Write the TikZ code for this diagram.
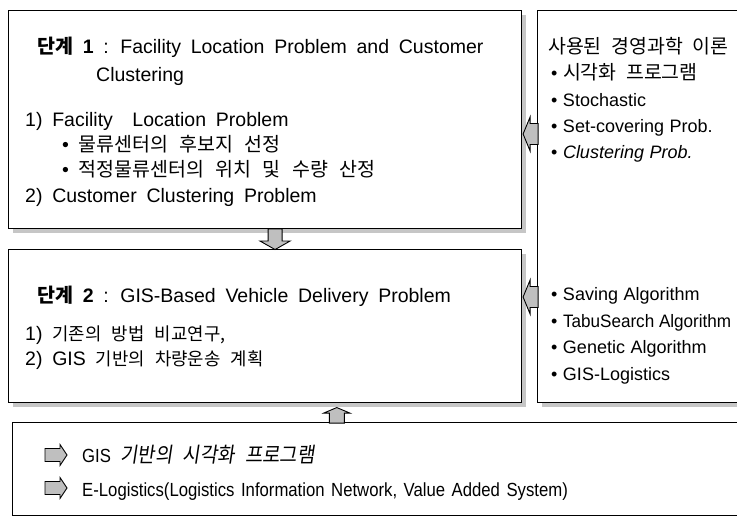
\documentclass[tikz,border=0pt]{standalone}
\usepackage{fontspec}
\setmainfont{Liberation Sans}[WordSpace=1.8]
\newfontfamily\rsans{Liberation Sans}[WordSpace=1.1]
\newfontfamily\rnarrow{Liberation Sans}[FakeStretch=0.95,WordSpace=1.0]
\newfontfamily\kr{Noto Sans CJK KR}[WordSpace=2.6]
\newfontfamily\krr{Noto Sans CJK KR}[Scale=1.08,WordSpace=2.2]
\newfontfamily\krslant{Noto Sans CJK KR}[FakeSlant=0.15,FakeStretch=0.9,WordSpace=2.4]
\newfontfamily\cond{Liberation Sans}[FakeStretch=0.88,WordSpace=1.4]
\usetikzlibrary{shadows,calc}
% Korean text inside the stage panels and the theory panel
\newcommand\K[1]{{\kr\fontsize{19.5}{19.5}\selectfont #1}}
\newcommand\Ks[1]{{\kr\fontsize{17.8}{17.8}\selectfont #1}}
\newcommand\KR[1]{{\krr #1}}
\tikzset{
  panel/.style={draw=black, line width=1.1pt, fill=white, anchor=north west,
    inner sep=0, general shadow={fill=gray!45, shadow xshift=4.5pt, shadow yshift=-4.5pt}},
  openpanel/.style={draw=black, line width=1.1pt, fill=white, anchor=north west, inner sep=0},
  line/.style={anchor=base west, inner sep=0, font=\fontsize{19.5}{19.5}\selectfont},
  rline/.style={anchor=base west, inner sep=0, font=\rsans\fontsize{18}{18}\selectfont},
  bline/.style={anchor=base west, inner sep=0, font=\fontsize{19}{19}\selectfont},
  ba/.style={draw=black, line width=0.9pt, fill=gray!50, line join=miter},
  % block arrows, drawn around their centre point
  arrow down/.pic={\draw[ba] (-7,-10) -- (7,-10) -- (7,2) -- (15,2) -- (0,10.5) -- (-15,2) -- (-7,2) -- cycle;},
  arrow up/.pic={\draw[ba] (-7.5,8) -- (7.5,8) -- (7.5,-2) -- (13,-2) -- (0,-7.5) -- (-13,-2) -- (-7.5,-2) -- cycle;},
  arrow left/.pic={\draw[ba] (8,-10.5) -- (8,10.5) -- (0,10.5) -- (0,17) -- (-7,0) -- (0,-17) -- (0,-10.5) -- cycle;},
  arrow right/.pic={\draw[ba] (-11,-6.5) -- (4,-6.5) -- (4,-10.5) -- (11,0) -- (4,10.5) -- (4,6.5) -- (-11,6.5) -- cycle;},
}
\begin{document}
\begin{tikzpicture}[x=1pt,y=-1pt]
\useasboundingbox (0,0) rectangle (737,516);

% the two stage panels, the theory panel and the support panel
\node[panel, minimum width=513, minimum height=218] (b1) at (8,10) {};
\node[panel, minimum width=513, minimum height=153] (b2) at (8,249) {};
\node[panel, minimum width=215, minimum height=392] (rb) at (537,10) {};
\node[openpanel, minimum width=740, minimum height=93] (bb) at (12,422) {};
\draw[gray!60, line width=0.6pt, dash pattern=on 40pt off 60pt] (bb.south west) -- (bb.south east);

% stage 1
\node[line] (t1) at (37,54) {\textbf{{\kr 단계} 1} : Facility Location Problem and Customer};
\node[line] (t1b) at (96,82) {Clustering};
\node[line] (t1c) at (25,127) {1) Facility \ Location Problem};
\node[line] (t1d) at (62,152) {• \K{물류센터의 후보지 선정}};
\node[line] (t1e) at (62,177) {• \K{적정물류센터의 위치 및 수량 산정}};
\node[line] (t1f) at (25,203) {2) Customer Clustering Problem};

% stage 2
\node[line] (t2) at (37,302) {\textbf{{\kr 단계} 2} : GIS-Based Vehicle Delivery Problem};
\node[line] (t2b) at (25,340) {1) \Ks{기존의 방법 비교연구,}};
\node[line] (t2c) at (25,365) {2) GIS \Ks{기반의 차량운송 계획}};

% management science theories
\node[rline] (r0) at (548,54) {\KR{사용된 경영과학 이론}};
\node[rline] (r1) at (551,80) {• \KR{시각화 프로그램}};
\node[rline] (r2) at (551,107) {• Stochastic};
\node[rline] (r3) at (551,133) {• Set-covering Prob.};
\node[rline] (r4) at (551,159) {• \textit{Clustering Prob.}};
\node[rline] (r5) at (551,300) {• Saving Algorithm};
\node[rline] (r6) at (551,327) {• {\rnarrow TabuSearch Algorithm}};
\node[rline] (r7) at (551,353) {• Genetic Algorithm};
\node[rline] (r8) at (551,380) {• GIS-Logistics};

% supporting systems
\node[bline] (s1) at (82,462) {{\cond GIS} {\krslant\fontsize{21}{21}\selectfont 기반의 시각화 프로그램}};
\node[bline] (s2) at (82,496) {\cond E-Logistics(Logistics Information Network, Value Added System)};
\coordinate (i1) at (56,455);
\coordinate (i2) at (56,488);
\pic at (i1) {arrow right};
\pic at (i2) {arrow right};

% connectors between panels
\coordinate (d1) at ($(b1.south)!0.5!(b2.north) + (10,0)$);
\pic at (d1) {arrow down};
\coordinate (u1) at ($(b2.south)!0.5!(bb.north) + (13,2.5)$);
\pic at (u1) {arrow up};
\coordinate (l1) at ($(b1.east |- 0,134) + (8,0)$);
\pic at (l1) {arrow left};
\coordinate (l2) at ($(b2.east |- 0,297) + (8,0)$);
\pic at (l2) {arrow left};
\end{tikzpicture}
\end{document}
